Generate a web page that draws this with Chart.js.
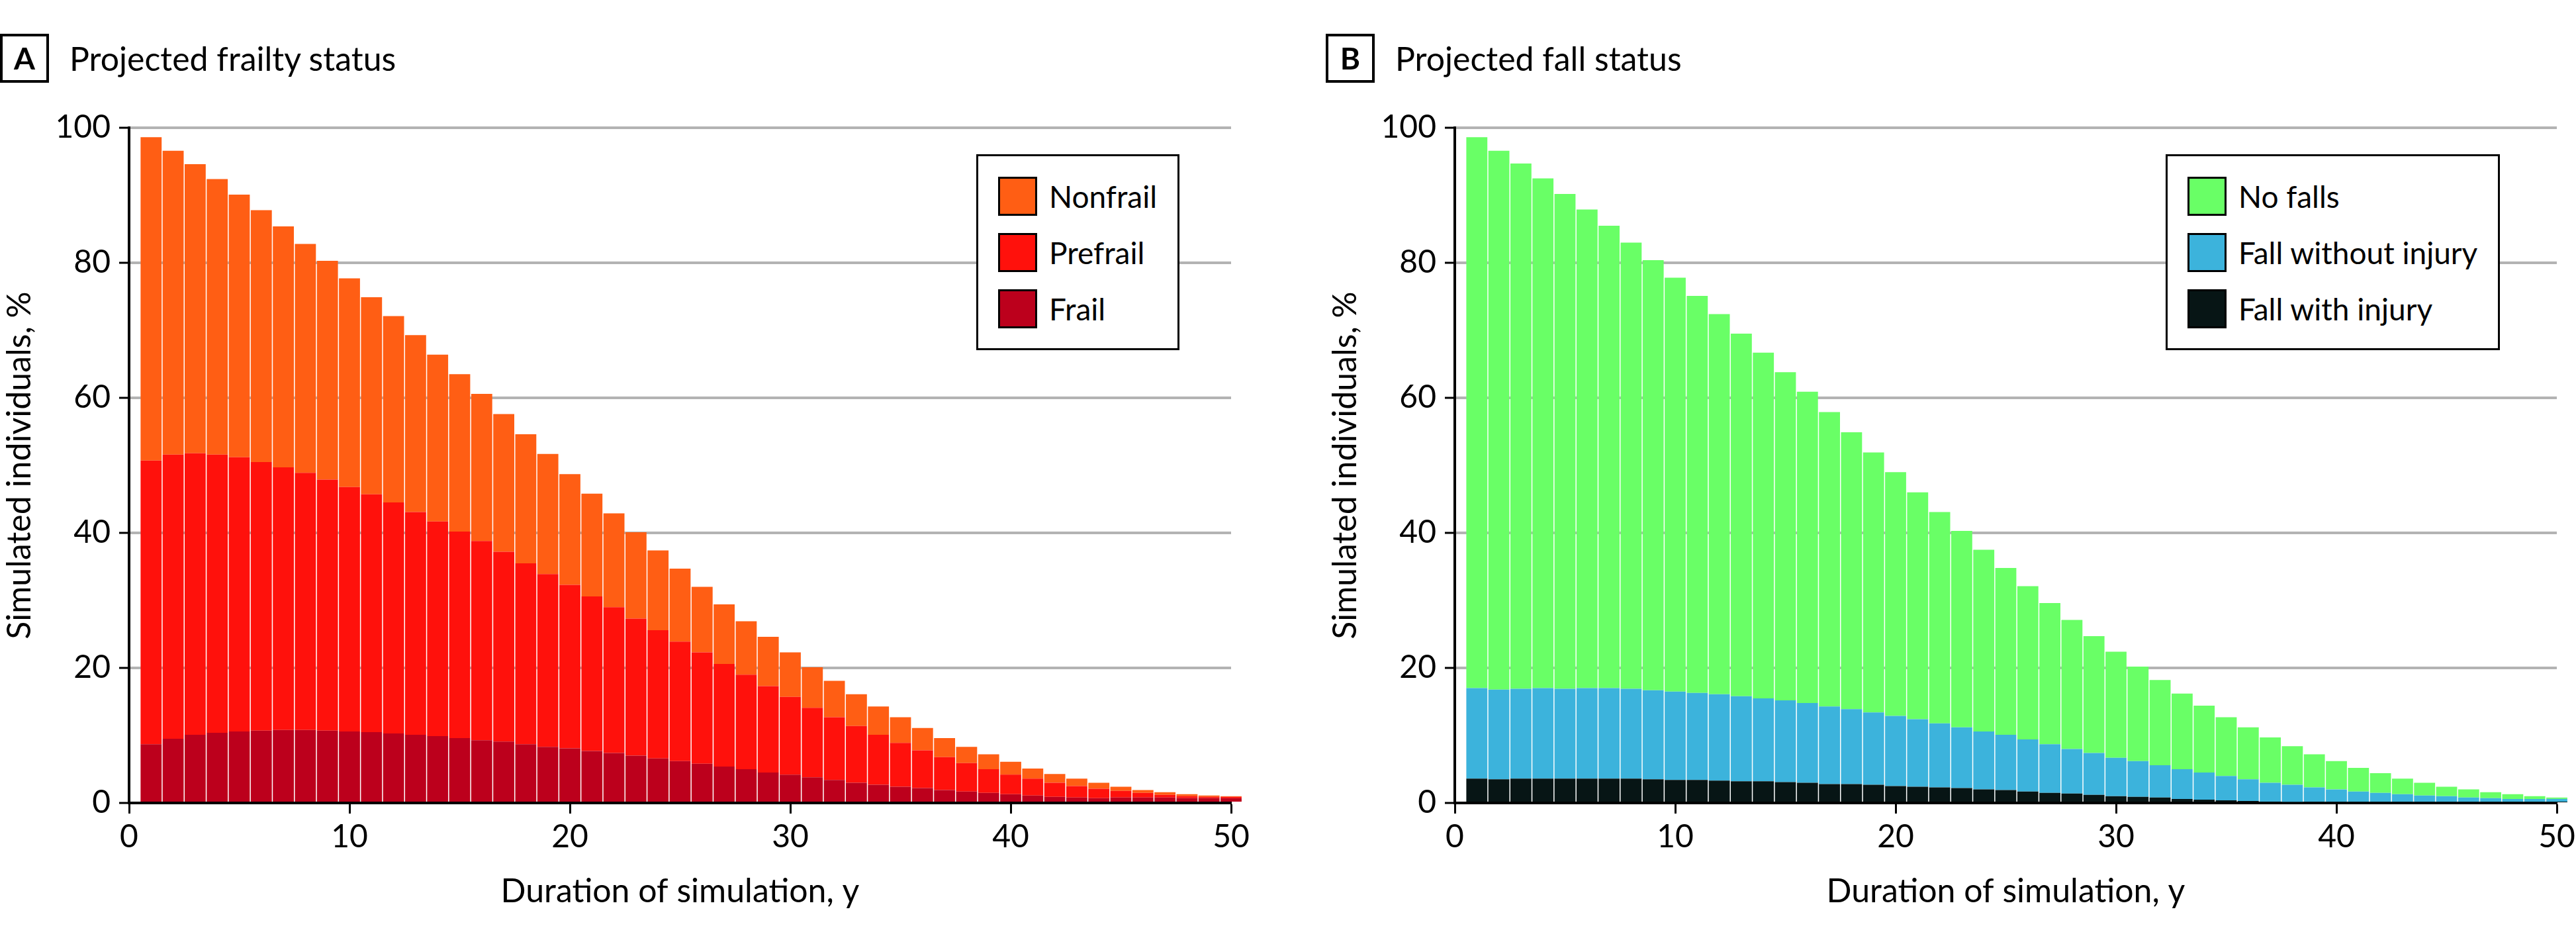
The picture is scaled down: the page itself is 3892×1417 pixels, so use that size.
<!DOCTYPE html>
<html>
<head>
<meta charset="utf-8">
<script src="https://cdn.jsdelivr.net/npm/chart.js@4.4.0/dist/chart.umd.min.js"></script>
<style>
  html, body { margin: 0; padding: 0; background: #fff; overflow: hidden; }
  body { width: 3892px; height: 1417px; position: relative; font-family: Lato, sans-serif; color: #000; }
  .panel { position: absolute; top: 0; height: 1417px; }
  .panel canvas { position: absolute; left: 0; top: 0; }
  .tag { position: absolute; left: 0; top: 51px; width: 74px; height: 74px; box-sizing: border-box;
         border: 4px solid #000; font-weight: 700; font-size: 46px; line-height: 66px; text-align: center; }
  .ttl { position: absolute; left: 105px; top: 58px; font-size: 50px; line-height: 1.2; white-space: nowrap; }
  .legend { position: absolute; top: 233px; border: 3px solid #000; background: #fff; padding: 31px 31px 30px 30px; }
  .row { display: flex; align-items: center; height: 59px; margin-bottom: 26px; font-size: 46px; white-space: nowrap; }
  .row:last-child { margin-bottom: 0; }
  .sw { width: 59px; height: 59px; box-sizing: border-box; border: 3px solid #000; margin-right: 18px; }
</style>
</head>
<body>
<div class="panel" style="left:0;width:1935px">
  <canvas id="chart-frailty" width="1935" height="1417"></canvas>
  <div class="tag">A</div>
  <div class="ttl">Projected frailty status</div>
  <div class="legend" id="legend-frailty" style="left:1475px"></div>
</div>
<div class="panel" style="left:2003px;width:1889px">
  <canvas id="chart-falls" width="1889" height="1417"></canvas>
  <div class="tag">B</div>
  <div class="ttl">Projected fall status</div>
  <div class="legend" id="legend-falls" style="left:1269px"></div>
</div>
<script>
// ── DATA ──────────────────────────────────────────────────────────────────
const YEARS = [1,2,3,4,5,6,7,8,9,10,11,12,13,14,15,16,17,18,19,20,21,22,23,24,25,
               26,27,28,29,30,31,32,33,34,35,36,37,38,39,40,41,42,43,44,45,46,47,48,49,50];
const X_TICKS = [0, 10, 20, 30, 40, 50];
const Y_TICKS = [0, 20, 40, 60, 80, 100];

// panel A – frailty (stack order bottom → top)
const FRAIL    = [8.7,9.5,10.1,10.4,10.6,10.7,10.8,10.8,10.7,10.6,10.5,10.3,10.1,9.9,9.6,9.3,9.1,8.7,8.3,8.1,
                  7.7,7.4,7.0,6.6,6.2,5.8,5.4,5.0,4.5,4.2,3.8,3.4,3.0,2.7,2.4,2.2,1.9,1.7,1.5,1.3,
                  1.1,0.9,0.8,0.7,0.8,0.8,0.8,0.7,0.7,0.7];
const PREFRAIL = [42.0,42.1,41.7,41.2,40.6,39.8,38.9,38.1,37.2,36.2,35.2,34.2,33.0,31.8,30.6,29.5,28.1,26.8,25.6,24.2,
                  22.9,21.6,20.3,19.0,17.7,16.5,15.2,14.0,12.8,11.5,10.3,9.3,8.4,7.4,6.5,5.6,4.9,4.2,3.5,2.9,
                  2.5,2.1,1.7,1.4,1.0,0.7,0.4,0.3,0.2,0.2];
const NONFRAIL = [47.9,45.0,42.8,40.8,38.9,37.3,35.7,33.9,32.4,30.9,29.2,27.6,26.2,24.7,23.3,21.8,20.4,19.1,17.8,16.4,
                  15.2,13.9,12.8,11.8,10.8,9.7,8.8,7.9,7.3,6.6,6.0,5.4,4.7,4.2,3.8,3.3,2.8,2.4,2.2,1.9,
                  1.5,1.3,1.1,0.9,0.6,0.4,0.4,0.3,0.2,0.1];

// panel B – falls (stack order bottom → top)
const FALL_INJURY    = [3.6,3.5,3.6,3.6,3.6,3.6,3.6,3.6,3.5,3.4,3.4,3.3,3.2,3.2,3.1,3.0,2.8,2.8,2.7,2.5,
                        2.4,2.3,2.2,2.0,1.9,1.7,1.5,1.4,1.2,1.0,0.9,0.8,0.6,0.5,0.4,0.3,0.2,0.15,0.1,0.1,
                        0.1,0.1,0.1,0.1,0.1,0.1,0.1,0.1,0.1,0.1];
const FALL_NO_INJURY = [13.4,13.3,13.3,13.4,13.3,13.4,13.4,13.3,13.2,13.1,12.9,12.8,12.6,12.3,12.1,11.8,11.5,11.1,10.7,10.4,
                        10.0,9.5,9.0,8.6,8.2,7.7,7.2,6.6,6.2,5.7,5.3,4.8,4.4,4.0,3.6,3.2,2.8,2.55,2.2,1.9,
                        1.6,1.4,1.2,1.0,0.9,0.7,0.6,0.5,0.5,0.5];
const NO_FALLS       = [81.6,79.8,77.8,75.5,73.3,70.9,68.5,66.1,63.7,61.3,58.8,56.3,53.7,51.2,48.6,46.1,43.6,41.0,38.5,36.1,
                        33.6,31.3,29.1,26.9,24.7,22.7,20.9,19.1,17.3,15.7,14.0,12.6,11.2,9.9,8.7,7.7,6.7,5.7,4.9,4.2,
                        3.5,2.9,2.3,1.9,1.4,1.2,0.9,0.7,0.4,0.2];

// ── DEFAULTS ──────────────────────────────────────────────────────────────
const FONT = 'Lato, sans-serif';
Chart.defaults.font.family = FONT;
Chart.defaults.color = '#000';

function buildLegend(id, series) {
  const box = document.getElementById(id);
  series.slice().reverse().forEach(s => {
    const row = document.createElement('div');
    row.className = 'row';
    row.innerHTML = '<span class="sw" style="background:' + s.color + '"></span><span>' + s.label + '</span>';
    box.appendChild(row);
  });
}

function makeChart(id, series, padRight) {
  const ctx = document.getElementById(id);
  return new Chart(ctx, {
    type: 'bar',
    data: {
      datasets: series.map(s => ({
        label: s.label,
        data: YEARS.map((yr, i) => ({ x: yr, y: s.values[i] })),
        backgroundColor: s.color,
        borderWidth: 0,
        barPercentage: 0.955,
        categoryPercentage: 1,
        clip: false,
      }))
    },
    options: {
      responsive: false, animation: false, devicePixelRatio: 1,
      layout: { padding: { left: 0, top: 193, right: padRight, bottom: 0 } },
      plugins: { legend: { display: false }, tooltip: { enabled: false } },
      scales: {
        x: {
          type: 'linear', stacked: true, offset: false, min: 0, max: 50,
          afterBuildTicks: s => { s.ticks = X_TICKS.map(v => ({ value: v })); },
          afterFit: s => { s.height = 204; s.paddingLeft = 0; s.paddingRight = 0; },
          grid: { drawOnChartArea: false, offset: false, tickLength: 16, tickWidth: 3, tickColor: '#000' },
          border: { display: true, color: '#000', width: 4 },
          ticks: { padding: 7, color: '#000', font: { size: 48 }, maxRotation: 0, autoSkip: false },
          title: { display: true, text: 'Duration of simulation, y', color: '#000',
                   font: { size: 50 }, padding: { top: 0, bottom: 40 } }
        },
        y: {
          stacked: true, min: 0, max: 100,
          afterBuildTicks: s => { s.ticks = Y_TICKS.map(v => ({ value: v })); },
          afterFit: s => { s.width = 195; s.paddingTop = 0; s.paddingBottom = 0; },
          grid: {
            color: c => (c.tick && c.tick.value === 0) ? 'rgba(0,0,0,0)' : '#b3b3b3',
            lineWidth: 4, tickLength: 15, tickWidth: 3, tickColor: '#000'
          },
          border: { display: true, color: '#000', width: 4 },
          ticks: { padding: 13, color: '#000', font: { size: 48 } },
          title: { display: true, text: 'Simulated individuals, %', color: '#000',
                   font: { size: 50 }, padding: { top: 0, bottom: 0 } }
        }
      }
    }
  });
}

const FRAILTY_SERIES = [
  { label: 'Frail',    values: FRAIL,    color: '#BC001C' },
  { label: 'Prefrail', values: PREFRAIL, color: '#FF110C' },
  { label: 'Nonfrail', values: NONFRAIL, color: '#FF5E14' },
];
const FALL_SERIES = [
  { label: 'Fall with injury',    values: FALL_INJURY,    color: '#071515' },
  { label: 'Fall without injury', values: FALL_NO_INJURY, color: '#3CB3DC' },
  { label: 'No falls',            values: NO_FALLS,       color: '#69FF66' },
];

makeChart('chart-frailty', FRAILTY_SERIES, 75);
makeChart('chart-falls', FALL_SERIES, 29);
buildLegend('legend-frailty', FRAILTY_SERIES);
buildLegend('legend-falls', FALL_SERIES);
</script>
</body>
</html>
